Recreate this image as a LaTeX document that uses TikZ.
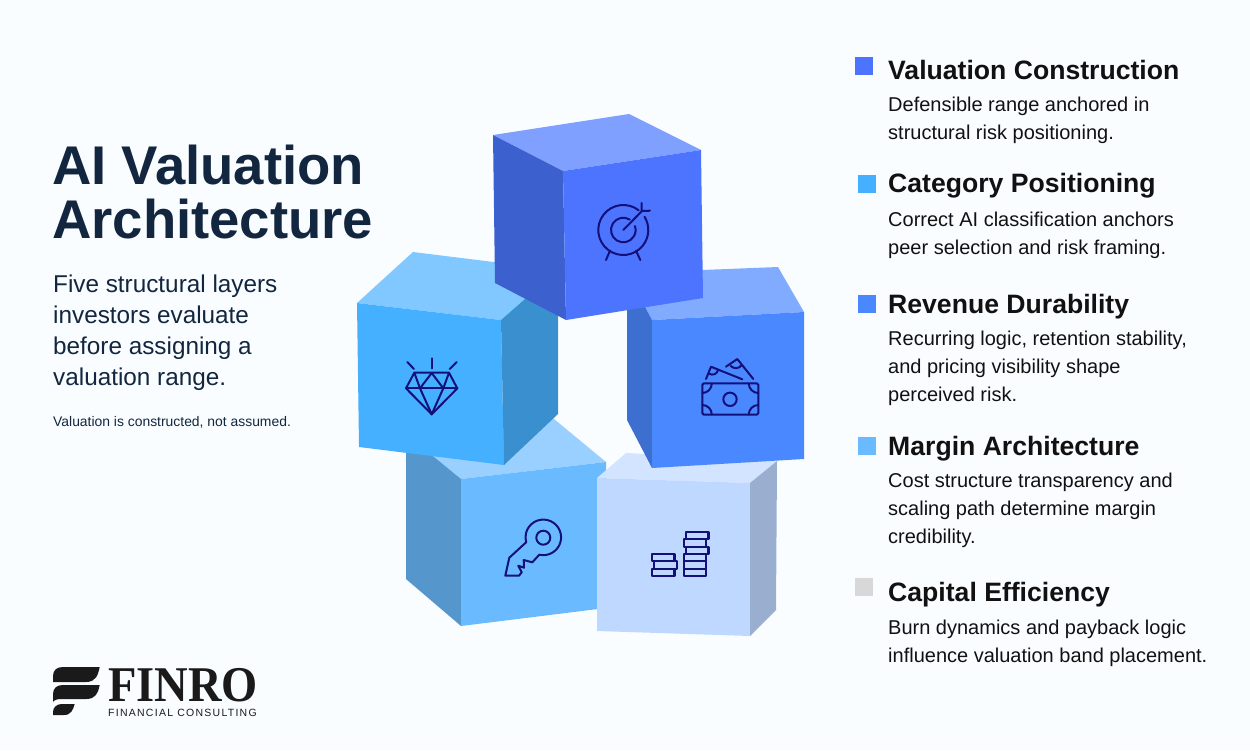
\documentclass[tikz,border=0pt]{standalone}
\usepackage{fontspec}
\setsansfont{Liberation Sans}
\newfontfamily\logofont{Liberation Serif}
\definecolor{pagebg}{HTML}{FAFDFF}
\definecolor{inkblue}{HTML}{12263F}
\definecolor{iconblue}{HTML}{14107A}
\definecolor{headblack}{HTML}{111111}
\definecolor{logoblack}{HTML}{1A1A1A}
\definecolor{targetfront}{HTML}{4D74FF}
\definecolor{targettop}{HTML}{80A0FF}
\definecolor{targetside}{HTML}{3D60CF}
\definecolor{gemfront}{HTML}{45B0FF}
\definecolor{gemtop}{HTML}{80C8FF}
\definecolor{gemside}{HTML}{3A90CF}
\definecolor{cashfront}{HTML}{4A88FF}
\definecolor{cashtop}{HTML}{80ABFF}
\definecolor{cashside}{HTML}{3C6FCF}
\definecolor{keyfront}{HTML}{69BAFF}
\definecolor{keytop}{HTML}{9AD0FF}
\definecolor{keyside}{HTML}{5596CC}
\definecolor{coinfront}{HTML}{BFD8FF}
\definecolor{cointop}{HTML}{D2E4FF}
\definecolor{coinside}{HTML}{9AAFCF}
\definecolor{swatchgray}{HTML}{D8D8D8}
\tikzset{
	icon/.style={draw=iconblue,line width=2pt,line join=round,line cap=round},
	swatch/.style={inner sep=0pt,minimum size=18pt,anchor=north west},
	heading/.style={anchor=base west,inner sep=0pt,text=headblack,font=\sffamily\bfseries\fontsize{26.6}{30}\selectfont},
	blurb/.style={anchor=north west,inner sep=0pt,align=left,text=headblack,font=\sffamily\fontsize{20}{28}\selectfont,execute at begin node=\strut},
}
\begin{document}
\begin{tikzpicture}[x=1pt,y=-1pt]
	\fill[pagebg] (0,0) rectangle (1250,750);
	% left column
	\node[anchor=north west,inner sep=0pt,align=left,text=inkblue,font=\sffamily\bfseries\fontsize{54.5}{54}\selectfont,execute at begin node=\strut] (title) at (52,145) {AI Valuation\\Architecture};
	\node[anchor=north west,inner sep=0pt,align=left,text=inkblue,font=\sffamily\fontsize{24.3}{31}\selectfont,execute at begin node=\strut] (intro) at (53,274.8) {Five structural layers\\investors evaluate\\before assigning a\\valuation range.};
	\node[anchor=base west,inner sep=0pt,text=inkblue,font=\sffamily\fontsize{13.9}{16}\selectfont] (note) at (53,426) {Valuation is constructed, not assumed.};
	% key cube
	\fill[keytop] (406,434)--(548,414)--(606,462)--(461,479)--cycle;
	\fill[keyside] (406,434)--(461,479)--(461,626)--(406,579)--cycle;
	\fill[keyfront] (461,479)--(606,462)--(606,608)--(461,626)--cycle;
	\draw[icon] (539.3,554.7) arc[start angle=103,end angle=-196,radius=17.8]
		--(509.3,557.7)--(505.3,575.7)--(519,575.7)--(521.7,572.3)--(518.3,565.7)--(524,567.7)--(523.7,560)--(532.3,562.3)--cycle;
	\draw[icon] (543.3,537.7) circle (7);
	% coins cube
	\fill[cointop] (597,478)--(626,453)--(777,461)--(750,483)--cycle;
	\fill[coinfront] (597,478)--(750,483)--(750,636)--(597,631)--cycle;
	\fill[coinside] (750,483)--(777,461)--(776,610)--(750,636)--cycle;
	\foreach \xa/\ya/\yb in {652/554/561.3,654.3/561.3/569,652/569/576.3,686/532/539.3,683.7/539.3/547,686/547/554,683.7/554/561.3,683.7/561.3/569,683.7/569/576.3}
		\draw[icon,line width=2.3pt] (\xa,\ya) rectangle ++(22.5,\yb-\ya);
	% cash cube
	\fill[cashtop] (627,273)--(778,267)--(804,312)--(652,320)--cycle;
	\fill[cashside] (627,273)--(652,320)--(652,468)--(627,420)--cycle;
	\fill[cashfront] (652,320)--(804,312)--(804,459)--(652,468)--cycle;
	\draw[icon,rounded corners=1.5pt] (702.3,383.3) rectangle (758.3,414.7);
	\draw[icon] (730,399.3) circle (6.7);
	\draw[icon] (702.3,393) arc[start angle=90,end angle=0,radius=9.5];
	\draw[icon] (758.3,393) arc[start angle=90,end angle=180,radius=9.5];
	\draw[icon] (702.3,405) arc[start angle=-90,end angle=0,radius=9.5];
	\draw[icon] (758.3,405) arc[start angle=-90,end angle=-180,radius=9.5];
	\draw[icon] (706,379)--(711,366.7)--(742.3,379.3);
	\draw[icon] (726,366.7)--(737.3,359)--(753.3,379);
	\draw[icon] (708.5,373.5) .. controls (713,376) and (717,374) .. (718,370);
	\draw[icon] (730.7,366) .. controls (734,369) and (739,369) .. (741.7,365);
	% gem cube
	\fill[gemtop] (357,303)--(413,252)--(558,270)--(501,320)--cycle;
	\fill[gemfront] (357,303)--(501,320)--(504,465)--(359,447)--cycle;
	\fill[gemside] (501,320)--(558,270)--(558,414)--(504,465)--cycle;
	\draw[icon] (414.3,372.7)--(449,372.7)--(457.3,388.3)--(431.7,414.3)--(406,388.3)--cycle;
	\draw[icon] (406,388.3)--(457.3,388.3);
	\draw[icon] (414.3,372.7)--(420,388.3)--(431.7,414.3)--(443.3,388.3)--(449,372.7);
	\draw[icon] (420,388.3)--(431.7,373)--(443.3,388.3);
	\draw[icon] (431.7,358.3)--(431.7,368.3);
	\draw[icon] (407.3,362)--(414,369);
	\draw[icon] (456.7,362)--(449.7,369);
	% target cube
	\fill[targettop] (493,135)--(629,114)--(701,150)--(563,171)--cycle;
	\fill[targetside] (493,135)--(563,171)--(566,320)--(495,283)--cycle;
	\fill[targetfront] (563,171)--(701,150)--(703,298)--(566,320)--cycle;
	\coordinate (targetmid) at (623.3,230);
	\draw[icon] ([shift={(-52:25)}]targetmid) arc[start angle=-52,end angle=-392,radius=25];
	\draw[icon] ([shift={(-58:12.3)}]targetmid) arc[start angle=-58,end angle=-379,radius=12.3];
	\draw[icon] (targetmid)--(642,211);
	\draw[icon] (641.7,203)--(641.7,211)--(650,210.7);
	\draw[icon] (610,250.7)--(606,260);
	\draw[icon] (636,250.7)--(640.3,260);
	% legend
	\node[swatch,fill=targetfront] (swatchone) at (855,57) {};
	\node[swatch,fill=gemfront] (swatchtwo) at (858,175) {};
	\node[swatch,fill=cashfront] (swatchthree) at (858,295) {};
	\node[swatch,fill=keyfront] (swatchfour) at (858,437) {};
	\node[swatch,fill=swatchgray] (swatchfive) at (855,578) {};
	\node[heading] (headone) at (888,79) {Valuation Construction};
	\node[blurb] (blurbone) at (888,96.4) {Defensible range anchored in\\structural risk positioning.};
	\node[heading] (headtwo) at (888,192) {Category Positioning};
	\node[blurb] (blurbtwo) at (888,211.4) {Correct AI classification anchors\\peer selection and risk framing.};
	\node[heading] (headthree) at (888,313) {Revenue Durability};
	\node[blurb] (blurbthree) at (888,330.4) {Recurring logic, retention stability,\\and pricing visibility shape\\perceived risk.};
	\node[heading] (headfour) at (888,455) {Margin Architecture};
	\node[blurb] (blurbfour) at (888,472.4) {Cost structure transparency and\\scaling path determine margin\\credibility.};
	\node[heading] (headfive) at (888,601) {Capital Efficiency};
	\node[blurb] (blurbfive) at (888,619.4) {Burn dynamics and payback logic\\influence valuation band placement.};
	% logo
	\fill[logoblack] (99.7,667) .. controls (98,675) and (96,682) .. (86,682)--(53,682)--(53,676) .. controls (53,670) and (57,667) .. (63,667)--cycle;
	\fill[logoblack] (99.7,685) .. controls (98,693) and (96,699) .. (86,699)--(62,699) .. controls (57,699) and (54,700) .. (53,702)--(53,694) .. controls (53,688) and (57,685) .. (63,685)--cycle;
	\fill[logoblack] (74.7,704) .. controls (73,710) and (71,715) .. (64,715)--(53,715)--(53,712) .. controls (53,707) and (57,704) .. (62,704)--cycle;
	\node[anchor=base west,inner sep=0pt,text=logoblack,xscale=.93,text depth=0pt,font=\logofont\bfseries\fontsize{50}{50}\selectfont] (finro) at (108,701) {FINRO};
	\node[anchor=base west,inner sep=0pt,text=logoblack,font=\sffamily\addfontfeature{LetterSpace=12}\fontsize{10.5}{12}\selectfont] (consulting) at (108,716.5) {FINANCIAL CONSULTING};
\end{tikzpicture}
\end{document}
